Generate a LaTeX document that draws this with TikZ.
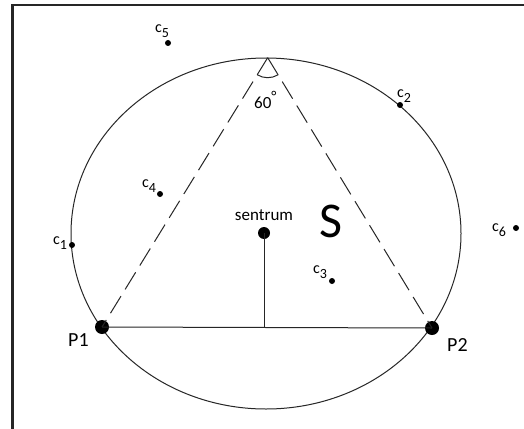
\documentclass[tikz,border=0pt]{standalone}
\usepackage{fontspec}
\setmainfont{Carlito}
\newcommand\mycsub[1]{c\raisebox{-5pt}{\fontsize{14}{14}\selectfont #1}}
\begin{document}
\begin{tikzpicture}[x=1pt,y=-1pt,
  cdot/.style={circle,fill=black,inner sep=0pt,minimum size=6pt},
  pdot/.style={circle,fill=black,inner sep=0pt,minimum size=14pt},
  sdot/.style={circle,fill=black,inner sep=0pt,minimum size=12pt},
  clabel/.style={anchor=base west,inner sep=0pt,font=\fontsize{16}{16}\selectfont},
  plabel/.style={anchor=base west,inner sep=0pt,font=\fontsize{20}{20}\selectfont},
  thin line/.style={line width=1pt,black!85},
  dashline/.style={line width=1pt,black!85,dash pattern=on 20pt off 8pt}]
\useasboundingbox (0,0) rectangle (524,428);
\fill[white] (0,0) rectangle (524,428);
% frame
\draw[line width=2.2pt,black!85] (12.5,430) -- (12.5,5) -- (526,5);
% circle
\draw[thin line] (266,233.5) ellipse [x radius=195, y radius=175.5];
% points
\coordinate (apex) at (267.7,57.7);
\node[pdot] (P1) at (102,327) {};
\node[pdot] (P2) at (432,328) {};
\node[sdot] (sentrum) at (264,233) {};
\coordinate (foot) at (sentrum |- P1);
\node[cdot] (c1) at (72,245) {};
\node[cdot] (c2) at (400,105) {};
\node[cdot] (c3) at (332,281) {};
\node[cdot] (c4) at (160,194) {};
\node[cdot] (c5) at (168,43) {};
\node[cdot] (c6) at (516,228) {};
% lines
\draw[thin line] (P1.center) -- (P2.center);
\draw[thin line] (sentrum.center) -- (foot);
\draw[dashline] (apex) -- (P1.center);
\draw[dashline] (apex) -- (P2.center);
\draw[thin line] ([shift={(58.7:20)}]apex) arc[start angle=58.7, end angle=121.8, radius=20];
% labels
\node[clabel] (l1) at (53,244) {\mycsub{1}};
\node[clabel] (l2) at (397,97) {\mycsub{2}};
\node[clabel] (l3) at (313,273) {\mycsub{3}};
\node[clabel] (l4) at (142,187) {\mycsub{4}};
\node[clabel] (l5) at (155,33) {\mycsub{5}};
\node[clabel] (l6) at (492,231) {\mycsub{6}};
\node[plabel] (lP1) at (68,346) {P1};
\node[plabel] (lP2) at (447,351) {P2};
\node[anchor=base,inner sep=0pt,font=\fontsize{17}{17}\selectfont] (lsentrum) at (264,220) {sentrum};
\node[anchor=base west,inner sep=0pt,font=\fontsize{50}{50}\selectfont] (lS) at (319,237) {S};
\node[anchor=base west,inner sep=0pt,font=\fontsize{17}{17}\selectfont] (l60) at (254,108) {60\raisebox{7pt}{\fontsize{15}{15}\selectfont °}};
\end{tikzpicture}
\end{document}
